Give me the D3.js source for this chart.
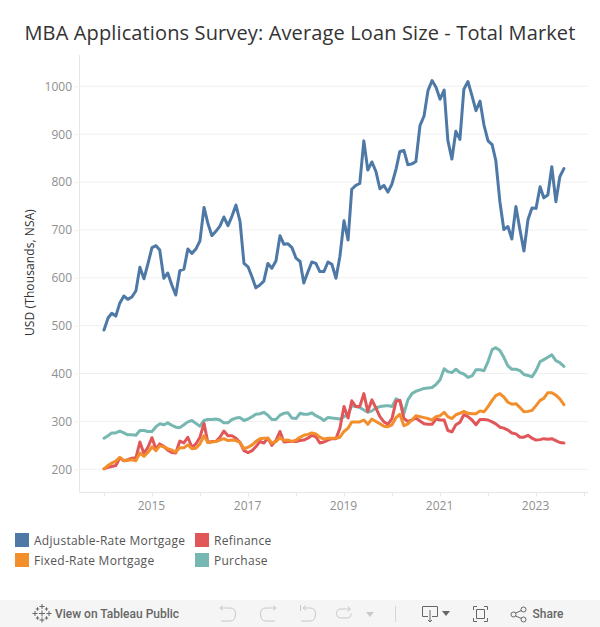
<!DOCTYPE html>
<html>
<head>
<meta charset="utf-8">
<script src="https://cdn.jsdelivr.net/npm/d3@7.9.0/dist/d3.min.js"></script>
<style>
  html, body { margin: 0; padding: 0; background: #fff; }
  svg { display: block; font-family: "Open Sans", sans-serif; }
</style>
</head>
<body>
<svg id="chart" width="600" height="627"></svg>
<script>
const adjustable = [491,516,526,520,547,562,555,560,573,622,598,629,663,667,658,599,610,585,564,615,618,660,651,660,677,747,714,688,697,708,727,709,729,752,718,630,623,601,579,585,593,630,620,635,688,670,671,663,641,634,589,612,633,630,613,613,633,628,599,645,719,679,785,793,797,886,825,842,822,786,793,779,796,827,864,866,836,838,843,918,938,991,1012,998,973,992,887,848,906,889,994,1010,980,949,969,919,886,878,845,759,701,707,681,749,700,656,722,746,745,790,767,773,832,759,811,828];
const refinance = [201,204,206,208,224,218,220,223,224,257,233,246,266,242,253,248,240,235,234,259,255,267,246,253,267,296,256,258,258,267,280,270,270,265,256,239,235,239,247,258,255,265,250,260,279,257,258,258,258,260,261,265,271,268,255,257,261,264,264,286,331,307,343,331,331,358,321,345,328,310,299,294,306,342,344,306,300,303,307,301,295,294,294,305,303,303,281,278,293,298,314,310,303,293,304,304,303,299,295,288,286,282,276,274,267,267,271,265,261,262,264,263,264,260,256,255];
const fixedRate = [201,208,213,217,225,218,219,220,218,234,227,235,247,239,249,247,243,240,236,245,245,251,243,244,253,270,256,257,258,261,264,260,261,260,256,243,246,251,258,264,265,265,255,258,266,260,261,258,261,267,271,273,276,274,267,263,265,265,265,267,279,286,299,299,299,303,294,305,300,295,290,289,293,308,315,291,295,303,312,310,308,306,303,310,312,319,310,306,314,317,321,317,316,316,322,320,331,344,354,358,351,340,336,337,329,320,321,323,333,344,348,360,360,355,347,335];
const purchase = [265,270,276,276,280,276,272,272,271,281,281,279,279,289,295,293,297,292,288,287,293,299,302,296,290,302,304,304,305,303,297,297,304,307,308,302,305,310,315,316,319,313,304,304,313,317,318,307,306,317,315,315,318,312,308,302,308,307,306,305,310,315,333,331,329,324,319,322,328,331,332,333,331,347,343,317,345,358,363,366,369,370,371,377,387,410,404,402,409,402,399,392,395,408,408,406,425,450,454,448,434,416,409,409,406,398,396,393,406,425,429,434,439,427,423,415];
const months = d3.utcMonth.range(new Date(Date.UTC(2014, 0, 1)), new Date(Date.UTC(2023, 8, 1)));
const yTicks = [200, 300, 400, 500, 600, 700, 800, 900, 1000];
const yearLabels = [2015, 2017, 2019, 2021, 2023];

const titleText = 'MBA Applications Survey: Average Loan Size - Total Market';
const yLabel = 'USD (Thousands, NSA)';

const seriesList = [
  { name: 'Adjustable-Rate Mortgage', values: adjustable, color: '#4e79a7' },
  { name: 'Purchase', values: purchase, color: '#76b7b2' },
  { name: 'Refinance', values: refinance, color: '#e15759' },
  { name: 'Fixed-Rate Mortgage', values: fixedRate, color: '#f28e2b' }
];

const svg = d3.select('#chart');
const plotLeft = 79.5, plotRight = 588, plotTop = 55, plotBottom = 492.5;

const x = d3.scaleUtc()
  .domain([new Date(Date.UTC(2014, 0, 1)), new Date(Date.UTC(2024, 0, 1))])
  .range([104, 584]);
const y = d3.scaleLinear().domain([200, 1000]).range([469.3, 86.3]);

svg.append('text')
  .attr('x', 300).attr('y', 40)
  .attr('text-anchor', 'middle')
  .attr('font-size', 20)
  .attr('letter-spacing', 0.13)
  .attr('fill', '#333')
  .text(titleText);

// gridlines
svg.append('g')
  .selectAll('line')
  .data(yTicks)
  .join('line')
    .attr('x1', plotLeft).attr('x2', plotRight)
    .attr('y1', d => y(d)).attr('y2', d => y(d))
    .attr('stroke', '#f0f0f0');

// axes
const yAxis = svg.append('g')
  .attr('transform', `translate(${plotLeft},0)`)
  .call(d3.axisLeft(y).tickValues(yTicks).tickFormat(d3.format('d')).tickSize(5).tickPadding(2.5));
yAxis.select('.domain').attr('d', `M0,${plotTop}V${plotBottom}`).attr('stroke', '#e6e6e6');
yAxis.selectAll('line').attr('stroke', '#f0f0f0');
yAxis.selectAll('text').attr('font-size', 12).attr('font-family', '"Open Sans", sans-serif').attr('fill', '#8f8f8f');

const xAxis = svg.append('g')
  .attr('transform', `translate(0,${plotBottom})`)
  .call(d3.axisBottom(x)
    .ticks(d3.utcYear.every(1))
    .tickSize(4)
    .tickPadding(5)
    .tickFormat(d => yearLabels.includes(d.getUTCFullYear()) ? d.getUTCFullYear() : ''));
xAxis.select('.domain').attr('d', `M${plotLeft},0H${plotRight}`).attr('stroke', '#e6e6e6');
xAxis.selectAll('line').attr('stroke', '#e6e6e6');
xAxis.selectAll('text').attr('font-size', 12).attr('font-family', '"Open Sans", sans-serif').attr('fill', '#8f8f8f').attr('dx', -1);

svg.append('text')
  .attr('transform', 'translate(34,272.5) rotate(-90)')
  .attr('text-anchor', 'middle')
  .attr('font-size', 12)
  .attr('letter-spacing', 0.1)
  .attr('fill', '#333')
  .text(yLabel);

// lines
const line = d3.line()
  .x((d, i) => x(months[i]))
  .y(d => y(d));

svg.append('g')
  .selectAll('path')
  .data(seriesList)
  .join('path')
    .attr('d', d => line(d.values))
    .attr('fill', 'none')
    .attr('stroke', d => d.color)
    .attr('stroke-width', 3)
    .attr('stroke-linejoin', 'round')
    .attr('stroke-linecap', 'round');

// legend
const legendItems = [
  { name: 'Adjustable-Rate Mortgage', color: '#4e79a7', lx: 15, ly: 533 },
  { name: 'Refinance', color: '#e15759', lx: 195, ly: 533 },
  { name: 'Fixed-Rate Mortgage', color: '#f28e2b', lx: 15, ly: 553 },
  { name: 'Purchase', color: '#76b7b2', lx: 195, ly: 553 }
];
const legend = svg.append('g').selectAll('g').data(legendItems).join('g')
  .attr('transform', d => `translate(${d.lx},${d.ly})`);
legend.append('rect').attr('width', 14).attr('height', 14).attr('fill', d => d.color);
legend.append('text')
  .attr('x', 19).attr('y', 11.5)
  .attr('font-size', 12)
  .attr('letter-spacing', 0.27)
  .attr('fill', '#555')
  .text(d => d.name);

// toolbar
const bar = svg.append('g');
bar.append('rect').attr('x', 0).attr('y', 600).attr('width', 600).attr('height', 27).attr('fill', '#f5f5f5');
const toolText = (tx, label) => bar.append('text')
  .attr('x', tx).attr('y', 618)
  .attr('font-family', 'Roboto, "Open Sans", sans-serif')
  .attr('font-size', 12)
  .attr('font-weight', 500)
  .attr('fill', '#666')
  .text(label);
toolText(55, 'View on Tableau Public');
toolText(532.5, 'Share');

const icon = (d, color, w) => bar.append('path')
  .attr('d', d).attr('fill', 'none').attr('stroke', color).attr('stroke-width', w || 1);

// tableau logo crosses
[[42, 606.5, 2.5], [42, 620, 2.5], [35, 613.5, 2.5], [49, 613.5, 2.5], [37.5, 609, 1.7], [46.5, 609, 1.7], [37.5, 618, 1.7], [46.5, 618, 1.7], [42, 613.5, 3]].forEach(([cx, cy, r]) => {
  icon(`M${cx - r},${cy}H${cx + r}M${cx},${cy - r}V${cy + r}`, '#666', 1);
});
// undo, redo, reset, replay
icon('M220,608H230Q235.5,608 235.5,614Q235.5,621 230,621H221M223,605.5L220,608L223,610.5', '#c9c9c9');
icon('M276,608H266Q260.5,608 260.5,614Q260.5,621 266,621H275M273,605.5L276,608L273,610.5', '#c9c9c9');
icon('M303,608H310Q315.5,608 315.5,614Q315.5,621 310,621H301M306,605.5L303,608L306,610.5M300.5,605V611', '#c9c9c9');
icon('M350,609H341Q336.5,609 336.5,613.5Q336.5,618 341,618H347Q351,618 351,613.5M347.5,606.5L350.5,609L347.5,611.5', '#c9c9c9');
bar.append('path').attr('d', 'M366,612H374L370,617Z').attr('fill', '#c9c9c9');
icon('M395.5,606V622', '#d5d5d5');
// download, dropdown, fullscreen, share
icon('M428,616.5H422.5V606.5H437.5V616.5H432M430,610V622M428,620L430,622L432,620', '#666');
bar.append('path').attr('d', 'M442,611H450L446,616Z').attr('fill', '#666');
icon('M473.5,610V606.5H477M484,606.5H487.5V610M487.5,618V621.5H484M477,621.5H473.5V618', '#666');
icon('M476.5,609.5H484.5V618.5H476.5Z', '#666');
bar.selectAll(null).data([[513.5, 614.5], [523.5, 609.5], [523.5, 619.5]]).join('circle')
  .attr('cx', d => d[0]).attr('cy', d => d[1]).attr('r', 2.5)
  .attr('fill', 'none').attr('stroke', '#666');
icon('M515.5,613L521.5,610.5M515.5,616L521.5,618.5', '#666');
</script>
</body>
</html>
